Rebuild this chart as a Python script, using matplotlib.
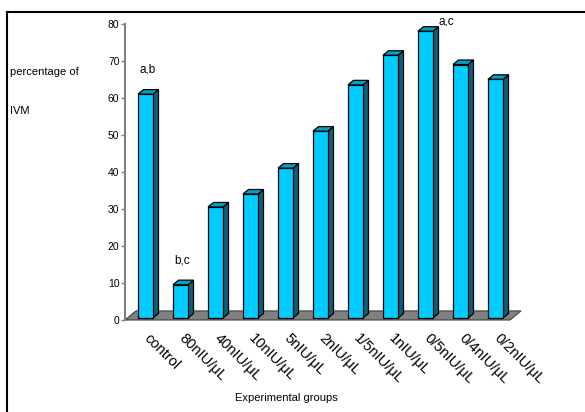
import matplotlib
matplotlib.use("Agg")
import matplotlib.pyplot as plt
import matplotlib.transforms as mtransforms
from matplotlib.patches import Polygon
from matplotlib.lines import Line2D

plt.rcParams['font.family'] = ['Liberation Sans', 'DejaVu Sans']

# data
groups = ['control', '80nIU/\u03bcL', '40nIU/\u03bcL', '10nIU/\u03bcL', '5nIU/\u03bcL',
          '2nIU/\u03bcL', '1/5nIU/\u03bcL', '1nIU/\u03bcL', '0/5nIU/\u03bcL',
          '0/4nIU/\u03bcL', '0/2nIU/\u03bcL']
values = [60.5, 9, 30, 33.5, 40.5, 50.5, 63, 71, 77.5, 68.5, 64.5]
yticks = [0, 10, 20, 30, 40, 50, 60, 70, 80]
# significance letters: (group index, label)
letters = [(0, 'a,b'), (1, 'b,c'), (8, 'a,c')]

FRONT = '#00ccff'
SIDE = '#0a6078'
TOP = '#00a2cc'
FLOOR = '#808080'

fig = plt.figure(figsize=(5.85, 4.12), dpi=100)
ax = fig.add_axes([125 / 585, 92 / 412, 400 / 585, 296 / 412])
ax.set_xlim(-0.586, 10.843)
ax.set_ylim(0, 80)

# pixel -> data conversions for the fake 3d depth
px_x = 1 / 35.0
px_y = 1 / 3.675
floor_dx, floor_dy = 11 * px_x, 9 * px_y
bar_dx, bar_dy = 5.5 * px_x, 4.5 * px_y
base = 2 * px_y
width = 15 * px_x
hw = width / 2

# floor
x0, x1 = ax.get_xlim()[0], (510 - 145.5) * px_x
floor = Polygon([(x0, 0), (x1, 0), (x1 + floor_dx, floor_dy), (x0 + floor_dx, floor_dy)],
                closed=True, facecolor=FLOOR, edgecolor='#404040', lw=0.8, zorder=1,
                clip_on=False)
ax.add_patch(floor)

xs = list(range(len(groups)))
ax.bar(xs, values, width=width, bottom=base, color=FRONT, edgecolor='black',
       linewidth=0.9, zorder=3)
for x, v in zip(xs, values):
    t = base + v
    side = Polygon([(x + hw, base), (x + hw + bar_dx, base + bar_dy),
                    (x + hw + bar_dx, t + bar_dy), (x + hw, t)],
                   closed=True, facecolor=SIDE, edgecolor='black', lw=0.9, zorder=2)
    top = Polygon([(x - hw, t), (x + hw, t), (x + hw + bar_dx, t + bar_dy),
                   (x - hw + bar_dx, t + bar_dy)],
                  closed=True, facecolor=TOP, edgecolor='black', lw=0.9, zorder=2)
    ax.add_patch(side)
    ax.add_patch(top)

# significance letters
for i, lab in letters:
    if i == 8:
        ax.text(i + 0.6, values[i] + 3.2, lab, fontsize=8.5, ha='center', va='center',
                clip_on=False)
    else:
        ax.text(i + 0.05, values[i] + 7.2, lab, fontsize=8.5, ha='center', va='center')

for s in ['top', 'right', 'bottom']:
    ax.spines[s].set_visible(False)
ax.spines['left'].set_color('#808080')
ax.spines['left'].set_linewidth(1.5)

ax.set_yticks(yticks)
ax.set_yticklabels([str(t) for t in yticks], fontsize=7.5)
ax.tick_params(axis='y', length=3, width=1, color='#808080', pad=1)

ax.set_xticks(xs)
ax.set_xticklabels(groups, rotation=-45, ha='left', va='top', rotation_mode='anchor',
                   fontsize=10.5)
ax.tick_params(axis='x', length=0, pad=8)
shift = mtransforms.ScaledTranslation(4 / 72, 0, fig.dpi_scale_trans)
for lbl in ax.get_xticklabels():
    lbl.set_transform(lbl.get_transform() + shift)

fig.text(286 / 585, 1 - 398 / 412, 'Experimental groups', fontsize=8, ha='center',
         va='center')
fig.text(10 / 585, 1 - 72 / 412, 'percentage of', fontsize=8, ha='left', va='center')
fig.text(10 / 585, 1 - 111 / 412, 'IVM', fontsize=8, ha='left', va='center')

# outer frame (only top and left edges are visible in the reference)
fig.add_artist(Line2D([7 / 585, 1.0], [1 - 12 / 412, 1 - 12 / 412], color='black', lw=1.5))
fig.add_artist(Line2D([7 / 585, 7 / 585], [0, 1 - 12 / 412], color='black', lw=1.5))

fig.savefig('out.png', dpi=100)
